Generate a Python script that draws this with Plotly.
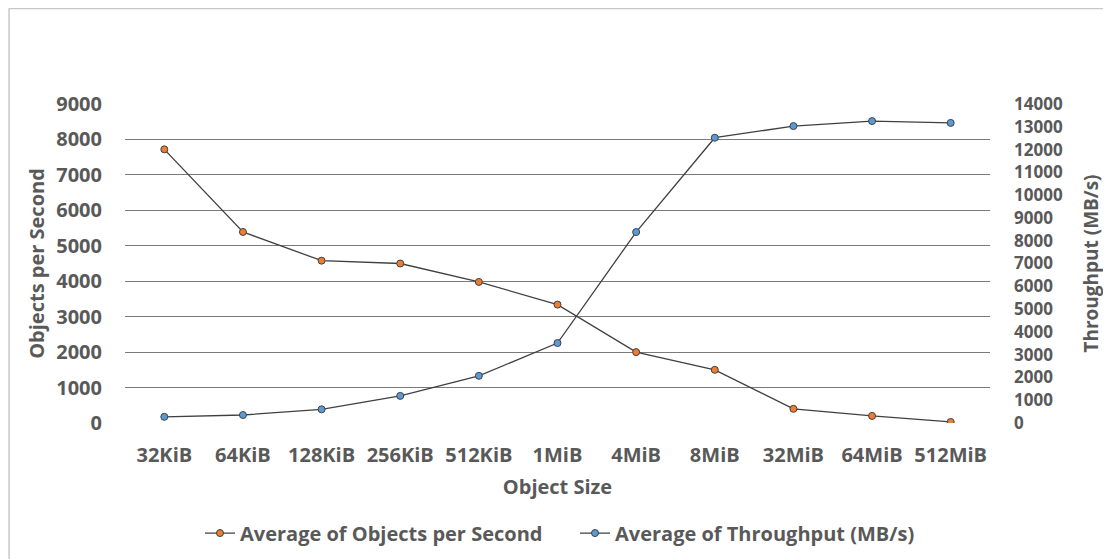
import plotly.graph_objects as go

categories = ["32KiB", "64KiB", "128KiB", "256KiB", "512KiB", "1MiB", "4MiB", "8MiB", "32MiB", "64MiB", "512MiB"]
objects_per_second = [7720, 5390, 4580, 4500, 3980, 3340, 2000, 1500, 400, 200, 30]
throughput_mbs = [270, 350, 600, 1190, 2070, 3510, 8380, 12520, 13030, 13250, 13170]
left_ticks = list(range(0, 9001, 1000))
right_ticks = list(range(0, 14001, 1000))

FONT = "Open Sans"
GREY = "#595959"
TF = dict(family=FONT, size=20, color=GREY, weight="bold")
RF = dict(family=FONT, size=17, color=GREY, weight="bold")

fig = go.Figure()
fig.add_trace(go.Scatter(
    x=categories, y=objects_per_second, name="Average of Objects per Second",
    mode="lines+markers", yaxis="y",
    line=dict(color="#404040", width=1.3),
    marker=dict(color="#ED7D31", size=7, line=dict(color="#404040", width=1)),
))
fig.add_trace(go.Scatter(
    x=categories, y=throughput_mbs, name="Average of Throughput (MB/s)",
    mode="lines+markers", yaxis="y2",
    line=dict(color="#404040", width=1.3),
    marker=dict(color="#5B9BD5", size=7, line=dict(color="#404040", width=1)),
))

fig.update_layout(
    width=1103, height=551,
    margin=dict(l=117, r=121, t=96, b=136, autoexpand=False),
    paper_bgcolor="white", plot_bgcolor="white",
    font=dict(family=FONT, color=GREY, size=20),
    xaxis=dict(
        type="category", showgrid=False, showline=False, zeroline=False, automargin=False,
        tickfont=TF, ticklabelstandoff=18,
        title=dict(text="Object Size", font=TF, standoff=12),
        ticklen=0, range=[-0.5, 10.5],
    ),
    yaxis=dict(
        range=[0, 9000], tickvals=left_ticks, showgrid=True, gridcolor="#7a7a7a", gridwidth=1.2,
        zeroline=False, showline=False, automargin=False, tickformat="d",
        tickfont=TF, ticklabelstandoff=22, ticklen=0,
        title=dict(text="Objects per Second", font=TF, standoff=6),
    ),
    yaxis2=dict(
        range=[0, 14000], tickvals=right_ticks, overlaying="y", side="right",
        showgrid=False, zeroline=False, showline=False, automargin=False, tickformat="d",
        tickfont=RF, ticklabelstandoff=23, ticklen=0,
        title=dict(text="Throughput (MB/s)", font=dict(family=FONT, size=19, color=GREY, weight="bold"), standoff=22),
    ),
    legend=dict(
        orientation="h", x=0.0867, xanchor="left", y=-0.345, yanchor="middle",
        font=TF, itemwidth=30, entrywidth=330, entrywidthmode="pixels", traceorder="normal",
    ),
    showlegend=True,
)

fig.add_shape(type="rect", xref="paper", yref="paper",
              x0=-0.134, x1=1.2, y0=-0.5, y1=1.299,
              line=dict(color="#C8C8C8", width=1.5), fillcolor="rgba(0,0,0,0)")

fig.write_html("out.html")
